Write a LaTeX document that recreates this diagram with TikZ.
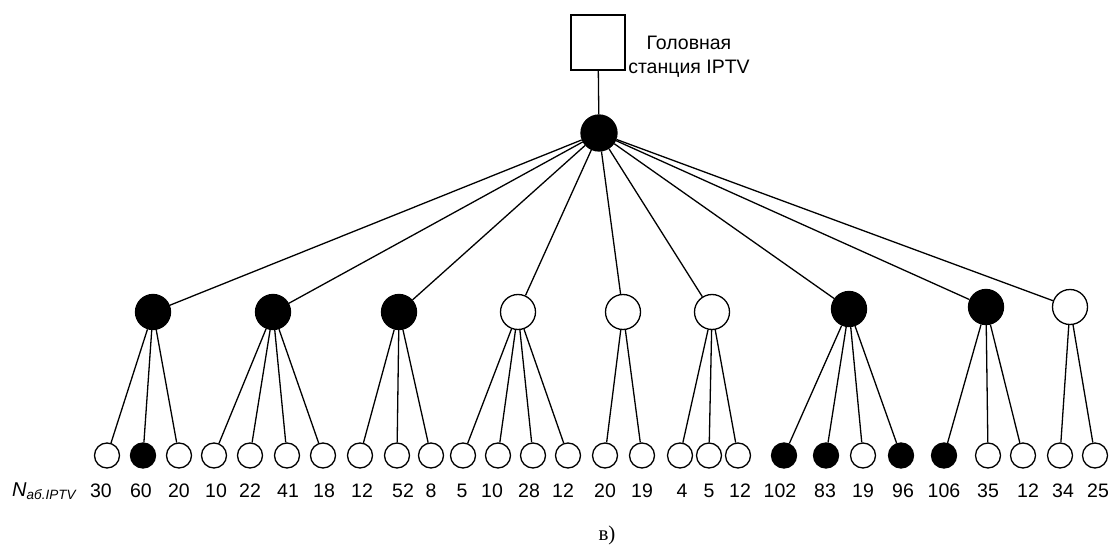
\documentclass[tikz,border=0pt]{standalone}
\usepackage{fontspec}
\setmainfont{Liberation Sans}
\newfontfamily\serifcyr{Liberation Serif}
\begin{document}
\begin{tikzpicture}[x=1pt,y=-1pt,
  lvl/.style={circle,draw=black,line width=1.3pt,inner sep=0pt,minimum size=35pt},
  leaf/.style={circle,draw=black,line width=1.3pt,inner sep=0pt,minimum size=25pt},
  full/.style={fill=black},
  empty/.style={fill=white},
  num/.style={font=\fontsize{19.5}{22}\selectfont,inner sep=0pt,anchor=center},
  edge/.style={draw=black,line width=1.3pt}]
\useasboundingbox (0,0) rectangle (1110,545);
% head station
\node[draw=black,line width=1.3pt,minimum width=54pt,minimum height=55pt,inner sep=0pt] (head) at (598,42.5) {};
\node[align=center,font=\fontsize{19.5}{24}\selectfont,inner sep=0pt] (headlbl) at (689,57) {Головная\\станция IPTV};
\node[lvl,full,minimum size=36pt] (root) at (599,133) {};
\draw[edge] (head) -- (root);
% level 2
\foreach \n/\x/\y/\f in {g1/153/312/full,g2/273/312/full,g3/399/312/full,g4/518/312/empty,g5/623/312/empty,g6/712/312/empty,g7/849/309/full,g8/986/307/full,g9/1070/307/empty}{
  \node[lvl,\f] (\n) at (\x,\y) {};
}
\foreach \n in {g1,g2,g3,g4,g5,g6,g7,g8,g9}{\draw[edge] (root) -- (\n);}
% leaves
\foreach \i/\x/\f/\p in {1/107/empty/g1,2/143/full/g1,3/179/empty/g1,
  4/214/empty/g2,5/250/empty/g2,6/287/empty/g2,7/323/empty/g2,
  8/360/empty/g3,9/397/empty/g3,10/431/empty/g3,
  11/463/empty/g4,12/498/empty/g4,13/533/empty/g4,14/568/empty/g4,
  15/605/empty/g5,16/642/empty/g5,
  17/680/empty/g6,18/709/empty/g6,19/738/empty/g6,
  20/784/full/g7,21/826/full/g7,22/863/empty/g7,23/901/full/g7,
  24/944/full/g8,25/988/empty/g8,26/1023/empty/g8,
  27/1060/empty/g9,28/1095/empty/g9}{
  \node[leaf,\f] (l\i) at (\x,455.5) {};
  \draw[edge] (\p) -- (l\i);
}
% numbers
\foreach \i/\x/\t in {1/101/30,2/141/60,3/179/20,4/216/10,5/250/22,6/288/41,7/324/18,
  8/362/12,9/403/52,10/431/8,11/462/5,12/492/10,13/529/28,14/563/12,
  15/605/20,16/642/19,17/682/4,18/709/5,19/740/12,20/780/102,21/825/83,
  22/863/19,23/903/96,24/944/106,25/988/35,26/1028/12,27/1063/34,28/1098/25}{
  \node[num] (n\i) at (\x,491) {\t};
}
\node[font=\fontsize{20}{22}\selectfont,inner sep=0pt,anchor=west] (nlbl) at (12,491) {\textit{N}\raisebox{-0.3ex}{\fontsize{13.5}{15}\selectfont\textit{аб.IPTV}}};
\node[font=\fontsize{21}{24}\selectfont\serifcyr,inner sep=0pt] (cap) at (607,535) {в)};
\end{tikzpicture}
\end{document}
